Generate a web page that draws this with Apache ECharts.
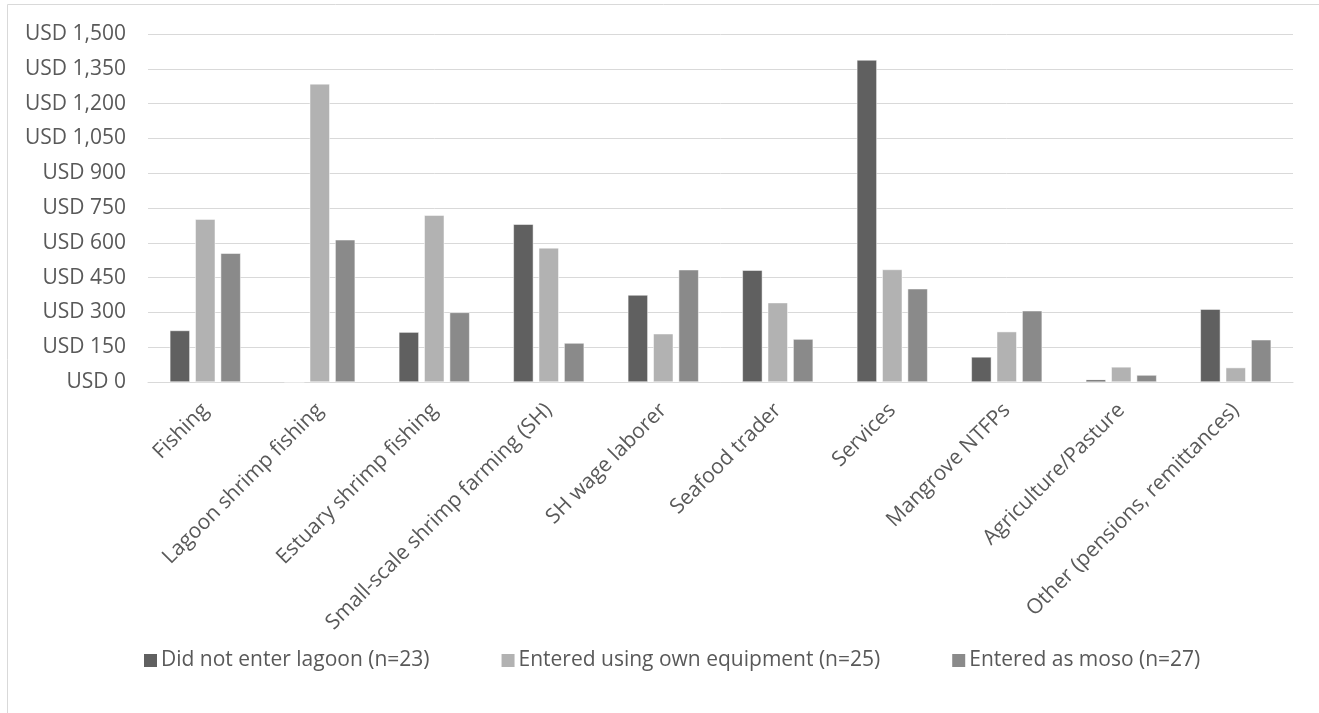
<!DOCTYPE html>
<html><head><meta charset="utf-8">
<script src="https://cdn.jsdelivr.net/npm/echarts@6/dist/echarts.min.js"></script>
<style>html,body{margin:0;padding:0;background:#fff}#c{width:1319px;height:713px}</style>
</head><body><div id="c"></div>
<script>
var categories = ["Fishing","Lagoon shrimp fishing","Estuary shrimp fishing","Small-scale shrimp farming (SH)","SH wage laborer","Seafood trader","Services","Mangrove NTFPs","Agriculture/Pasture","Other (pensions, remittances)"];
var seriesNames = ["Did not enter lagoon (n=23)","Entered using own equipment (n=25)","Entered as moso (n=27)"];
var didNotEnter = [222, 0, 215, 680, 375, 482, 1388, 108, 10, 314];
var ownEquipment = [702, 1285, 719, 578, 208, 342, 485, 217, 65, 62];
var asMoso = [555, 613, 300, 168, 484, 185, 402, 307, 30, 182];
var yTicks = [0,150,300,450,600,750,900,1050,1200,1350,1500];

var colors = ['#606060','#b2b2b2','#8a8a8a'];
var font = 'Open Sans, Noto Sans, sans-serif';
var chart = echarts.init(document.getElementById('c'));
function mk(name, data, i){
  return {name:name,type:'bar',data:data,barWidth:20,barGap:'27%',
    itemStyle:{color:colors[i],borderColor:'#ffffff',borderWidth:0.5}};
}
chart.setOption({
  animation:false,
  textStyle:{fontFamily:font},
  graphic:[{type:'rect',shape:{x:7.5,y:4.5,width:1330,height:730},style:{fill:'none',stroke:'#d9d9d9',lineWidth:1},silent:true}],
  grid:{left:148,right:26,top:34,bottom:331,containLabel:false},
  legend:{top:645,left:137,itemWidth:15,itemHeight:15,itemGap:70,icon:'rect',
    textStyle:{color:'#595959',fontSize:21,fontFamily:font,padding:[0,0,0,-2]},data:seriesNames},
  xAxis:{type:'category',data:categories,
    axisLine:{lineStyle:{color:'#d9d9d9',width:1}},axisTick:{show:false},
    axisLabel:{rotate:45,interval:0,color:'#595959',fontSize:21,fontFamily:font,margin:25}},
  yAxis:{type:'value',min:yTicks[0],max:yTicks[yTicks.length-1],interval:150,
    axisLine:{show:false},axisTick:{show:false},
    splitLine:{lineStyle:{color:'#d9d9d9',width:1}},
    axisLabel:{color:'#595959',fontSize:21,fontFamily:font,margin:22,
      formatter:function(v){return 'USD '+v.toLocaleString('en-US');}}},
  series:[mk(seriesNames[0],didNotEnter,0),mk(seriesNames[1],ownEquipment,1),mk(seriesNames[2],asMoso,2)]
});
</script></body></html>
